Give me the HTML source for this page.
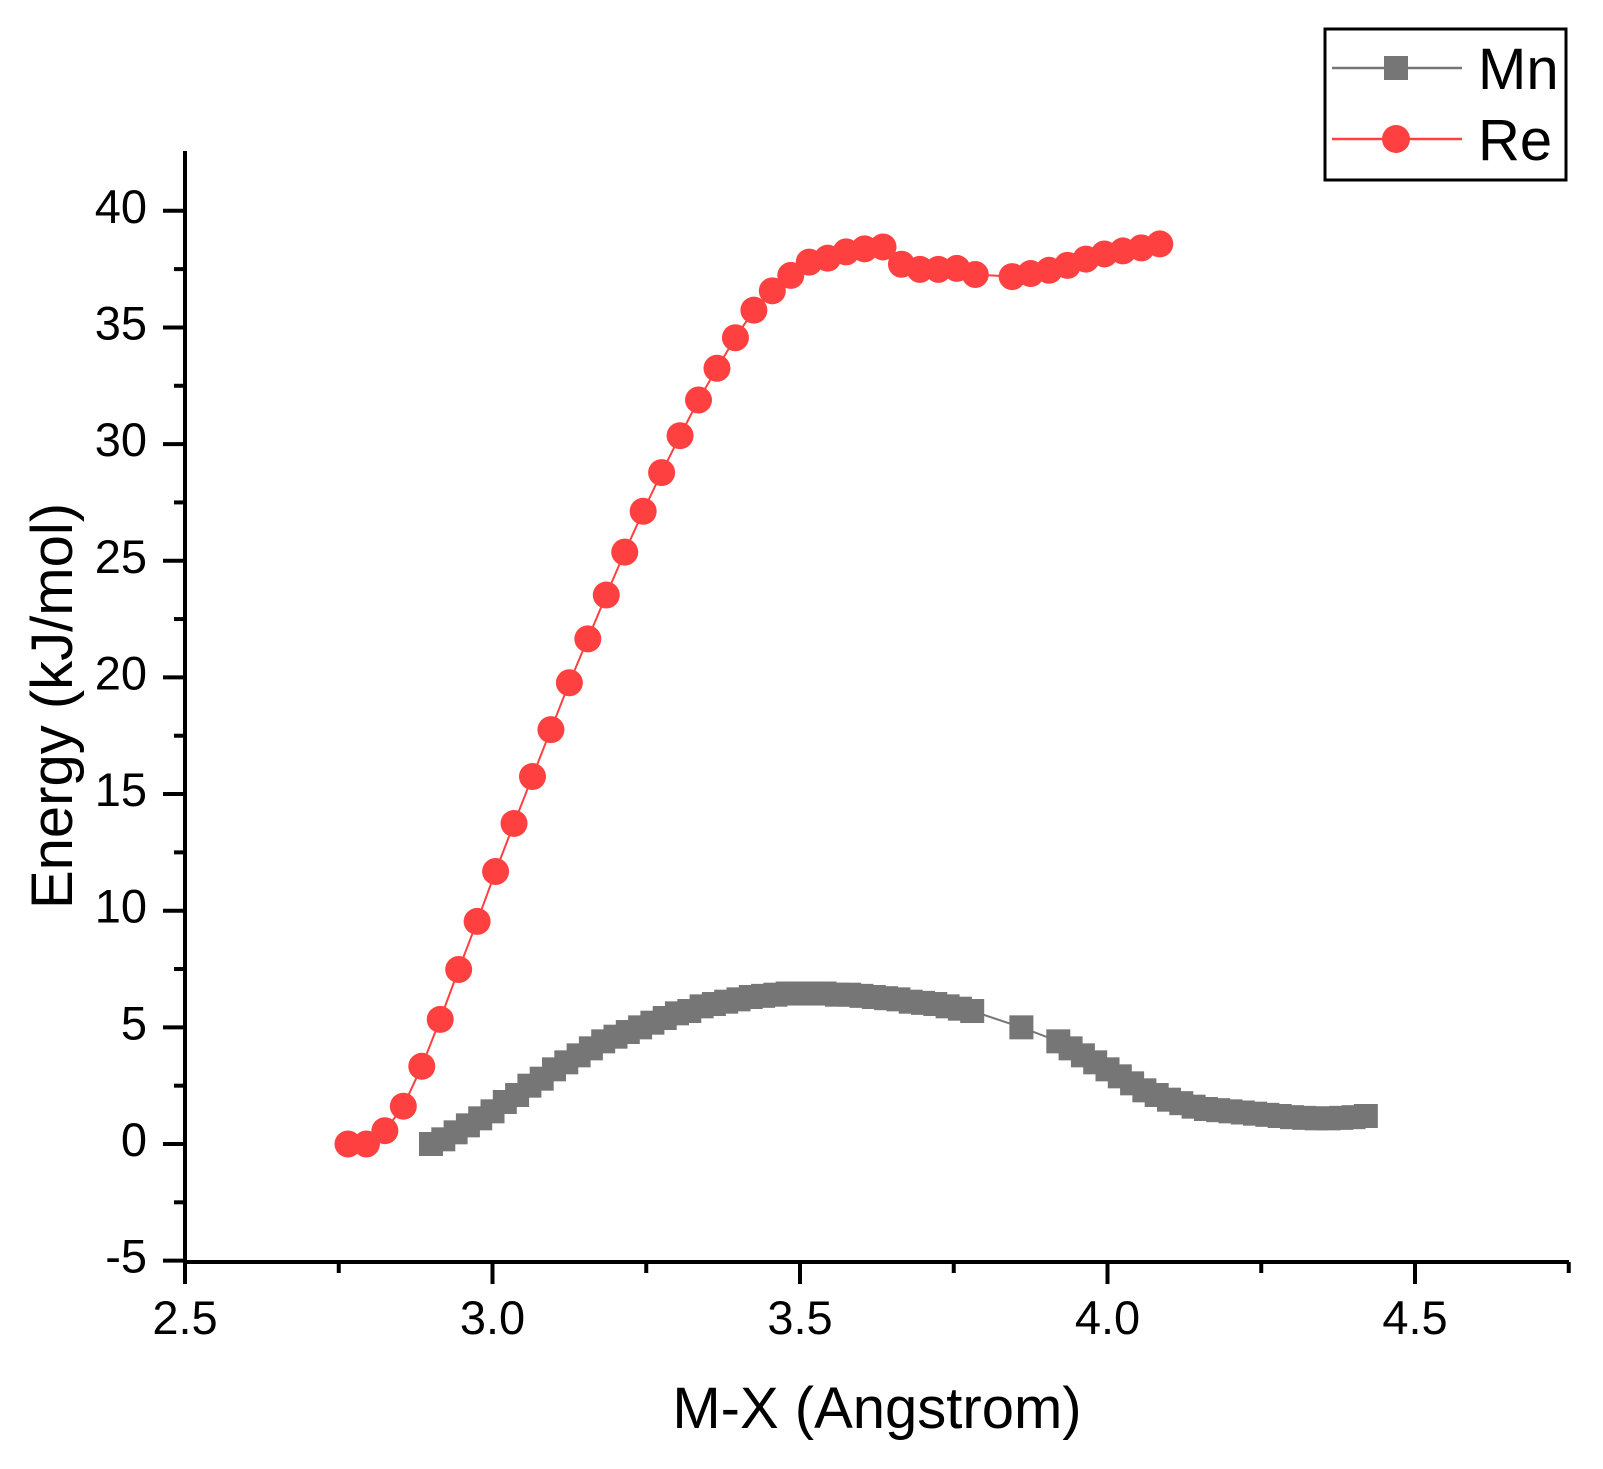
<!DOCTYPE html>
<html><head><meta charset="utf-8"><style>
html,body{margin:0;padding:0;background:#fff;}
svg{display:block;font-family:"Liberation Sans",Arial,sans-serif;}
</style></head><body>
<svg id="chart" width="1603" height="1469" viewBox="0 0 1603 1469" xmlns="http://www.w3.org/2000/svg">
<g id="axes"></g>
<g id="series"></g>
<g id="legend"></g>
</svg>
<script>
const xTicks=[2.5,3.0,3.5,4.0,4.5];
const xTickLabels=["2.5","3.0","3.5","4.0","4.5"];
const yTicks=[-5,0,5,10,15,20,25,30,35,40];
const yTickLabels=["-5","0","5","10","15","20","25","30","35","40"];
const mnX=[2.90,2.92,2.94,2.96,2.98,3.00,3.02,3.04,3.06,3.08,3.10,3.12,3.14,3.16,3.18,3.20,3.22,3.24,3.26,3.28,3.30,3.32,3.34,3.36,3.38,3.40,3.42,3.44,3.46,3.48,3.50,3.52,3.54,3.56,3.58,3.60,3.62,3.64,3.66,3.68,3.70,3.72,3.74,3.76,3.78,3.86,3.92,3.94,3.96,3.98,4.00,4.02,4.04,4.06,4.08,4.10,4.12,4.14,4.16,4.18,4.20,4.22,4.24,4.26,4.28,4.30,4.32,4.34,4.36,4.38,4.40,4.42];
const mnY=[0,0.2,0.5,0.8,1.1,1.4,1.8,2.1,2.5,2.8,3.2,3.5,3.8,4.1,4.4,4.6,4.8,5.0,5.2,5.4,5.6,5.7,5.9,6.0,6.1,6.2,6.3,6.35,6.4,6.45,6.45,6.45,6.45,6.4,6.4,6.35,6.3,6.25,6.2,6.1,6.05,6.0,5.9,5.8,5.7,5.0,4.4,4.1,3.8,3.5,3.2,2.9,2.6,2.3,2.1,1.9,1.75,1.6,1.5,1.45,1.4,1.35,1.3,1.25,1.2,1.15,1.12,1.1,1.1,1.12,1.15,1.2];
const reX=[2.765,2.795,2.825,2.855,2.885,2.915,2.945,2.975,3.005,3.035,3.065,3.095,3.125,3.155,3.185,3.215,3.245,3.275,3.305,3.335,3.365,3.395,3.425,3.455,3.485,3.515,3.545,3.575,3.605,3.635,3.665,3.695,3.725,3.755,3.785,3.845,3.875,3.905,3.935,3.965,3.995,4.025,4.055,4.085];
const reY=[0,0,0.57,1.62,3.33,5.34,7.48,9.54,11.68,13.74,15.75,17.76,19.77,21.65,23.53,25.37,27.12,28.78,30.36,31.89,33.25,34.56,35.74,36.57,37.23,37.8,37.97,38.24,38.37,38.45,37.71,37.49,37.49,37.53,37.27,37.18,37.31,37.45,37.66,37.93,38.15,38.28,38.41,38.58];

const NS="http://www.w3.org/2000/svg";
const X0=185,XS=615,Y0=1144,YS=23.33;
const sx=v=>X0+(v-2.5)*XS;
const sy=v=>Y0-v*YS;
function mk(tag,attrs,parent){const e=document.createElementNS(NS,tag);for(const k in attrs)e.setAttribute(k,attrs[k]);parent.appendChild(e);return e;}
const axes=document.getElementById('axes');
const series=document.getElementById('series');
const legend=document.getElementById('legend');
const yTop=151,yBot=1262,xRight=1569;
let l=mk('line',{x1:X0,y1:yTop,x2:X0,y2:yBot+2,stroke:'#000','stroke-width':4},axes);


l=mk('line',{x1:X0-2,y1:yBot,x2:xRight,y2:yBot,stroke:'#000','stroke-width':4},axes);


yTicks.forEach((v,i)=>{
  const y=sy(v);
  const t=mk('line',{x1:X0-22,y1:y,x2:X0,y2:y,stroke:'#000','stroke-width':4},axes);
  
  
  const tx=mk('text',{x:X0-38,y:y+12,'text-anchor':'end','font-size':47},axes);
  tx.textContent=yTickLabels[i];
  
  
  if(v<40){const m=mk('line',{x1:X0-11,y1:sy(v+2.5),x2:X0,y2:sy(v+2.5),stroke:'#000','stroke-width':4},axes);
  
  }
});
xTicks.forEach((v,i)=>{
  const x=sx(v);
  const t=mk('line',{x1:x,y1:yBot,x2:x,y2:yBot+22,stroke:'#000','stroke-width':4},axes);
  
  
  const tx=mk('text',{x:x,y:yBot+72,'text-anchor':'middle','font-size':47},axes);
  tx.textContent=xTickLabels[i];
  
  
  const m=mk('line',{x1:sx(v+0.25),y1:yBot,x2:sx(v+0.25),y2:yBot+11,stroke:'#000','stroke-width':4},axes);
  
  
});
let tt=mk('text',{x:877,y:1428,'text-anchor':'middle','font-size':58},axes);
tt.textContent='M-X (Angstrom)';


tt=mk('text',{x:0,y:0,'text-anchor':'middle','font-size':58,transform:'translate(72,706) rotate(-90)'},axes);
tt.textContent='Energy (kJ/mol)';



let p=mk('polyline',{points:mnX.map((x,i)=>sx(x)+','+sy(mnY[i])).join(' '),fill:'none',stroke:'#767676','stroke-width':2},series);


mnX.forEach((x,i)=>{const r=mk('rect',{x:sx(x)-12,y:sy(mnY[i])-12,width:24,height:24,fill:'#767676'},series);

});
p=mk('polyline',{points:reX.map((x,i)=>sx(x)+','+sy(reY[i])).join(' '),fill:'none',stroke:'#ff4040','stroke-width':2},series);


reX.forEach((x,i)=>{const c=mk('circle',{cx:sx(x),cy:sy(reY[i]),r:13.5,fill:'#ff4040'},series);

});

let b=mk('rect',{x:1325,y:29,width:241,height:151,fill:'#fff',stroke:'#000','stroke-width':3},legend);


let g=mk('g',{},legend);


mk('line',{x1:1332,y1:68,x2:1462,y2:68,stroke:'#767676','stroke-width':2.5},g);
mk('rect',{x:1384,y:56,width:24,height:24,fill:'#767676'},g);
let tx=mk('text',{x:1478,y:89,'font-size':58},g);tx.textContent='Mn';
g=mk('g',{},legend);


mk('line',{x1:1332,y1:139,x2:1462,y2:139,stroke:'#ff4040','stroke-width':2.5},g);
mk('circle',{cx:1396,cy:139,r:14,fill:'#ff4040'},g);
tx=mk('text',{x:1478,y:160,'font-size':58},g);tx.textContent='Re';
</script>
</body></html>
